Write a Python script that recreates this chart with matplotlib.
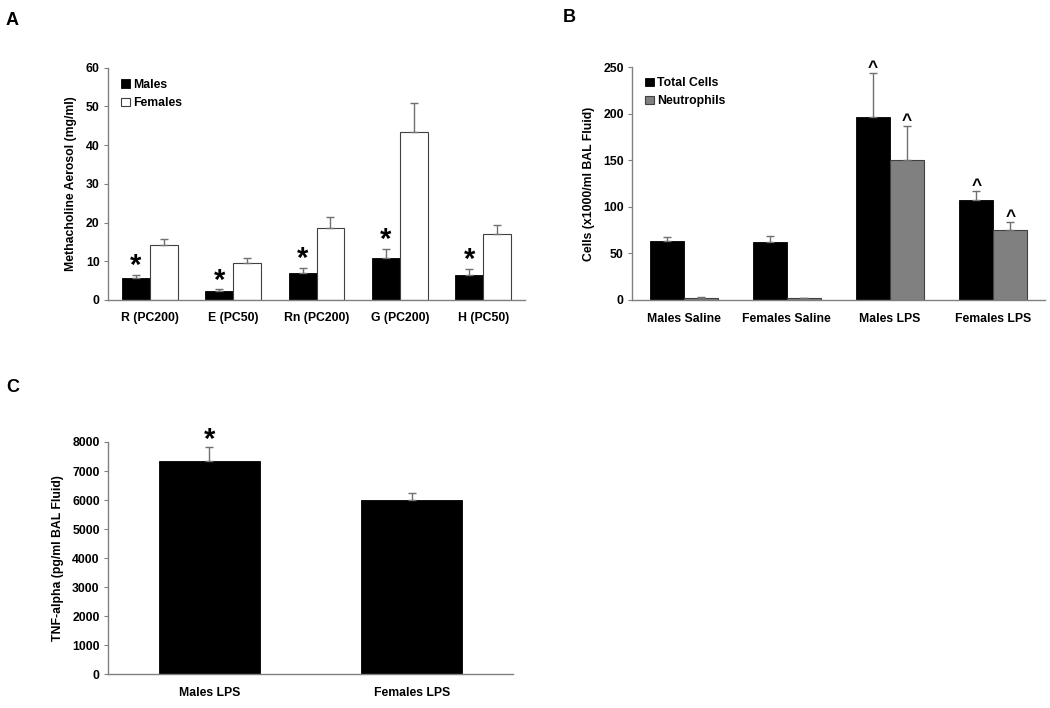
import matplotlib
matplotlib.use("Agg")
import matplotlib.pyplot as plt
import numpy as np

plt.rcParams['font.family'] = ['Liberation Sans', 'DejaVu Sans']
plt.rcParams['font.weight'] = 'bold'

# Panel A data
a_cats = ["R (PC200)", "E (PC50)", "Rn (PC200)", "G (PC200)", "H (PC50)"]
a_males = [5.6, 2.4, 7.1, 10.9, 6.5]
a_males_err = [0.9, 0.4, 1.2, 2.4, 1.6]
a_females = [14.3, 9.5, 18.5, 43.5, 17.0]
a_females_err = [1.4, 1.4, 2.9, 7.5, 2.5]
a_sig = ["*", "*", "*", "*", "*"]

# Panel B data
b_cats = ["Males Saline", "Females Saline", "Males LPS", "Females LPS"]
b_total = [63.8, 62.7, 197.0, 107.8]
b_total_err = [3.9, 5.7, 46.5, 9.0]
b_neut = [2.5, 1.8, 150.0, 74.9]
b_neut_err = [0.7, 0.7, 36.6, 8.6]
b_total_sig = ["", "", "^", "^"]
b_neut_sig = ["", "", "^", "^"]

# Panel C data
c_cats = ["Males LPS", "Females LPS"]
c_vals = [7350, 6000]
c_err = [490, 245]
c_sig = ["*", ""]

W, H = 1050, 708
fig = plt.figure(figsize=(W/100, H/100), dpi=100)

def px_axes(l, r, t, b):
    return fig.add_axes([l/W, (H-b)/H, (r-l)/W, (b-t)/H])

spine_c = '#808080'
err_c = '#707070'
fs = 8.8

def style(ax):
    for s in ['top', 'right']:
        ax.spines[s].set_visible(False)
    for s in ['left', 'bottom']:
        ax.spines[s].set_color(spine_c)
        ax.spines[s].set_linewidth(1.0)
    ax.tick_params(axis='y', direction='out', length=3, color=spine_c, labelsize=fs, pad=3)
    ax.tick_params(axis='x', length=0, labelsize=fs, pad=9)
    for lab in ax.get_xticklabels() + ax.get_yticklabels():
        lab.set_fontweight('bold')

def mark(ax, x, top, s, size, off):
    if s:
        ax.annotate(s, (x, top), xytext=(0, off), textcoords='offset points',
                    ha='center', va='bottom', fontsize=size, fontweight='bold')

# ---- Panel A
axA = px_axes(108, 525, 67.7, 300)
x = np.arange(len(a_cats))
w = 0.335
axA.bar(x - w/2, a_males, w, color='black', edgecolor='black', linewidth=0.6,
        yerr=[np.zeros(len(x)), a_males_err], ecolor=err_c, capsize=3,
        error_kw=dict(elinewidth=1, capthick=1), label='Males', zorder=2)
axA.bar(x + w/2, a_females, w, color='white', edgecolor='#404040', linewidth=0.8,
        yerr=[np.zeros(len(x)), a_females_err], ecolor=err_c, capsize=3,
        error_kw=dict(elinewidth=1, capthick=1), label='Females', zorder=2)
for i in range(len(x)):
    mark(axA, x[i] - w/2, a_males[i] + a_males_err[i], a_sig[i], 21, -4)
axA.set_xlim(-0.5, len(x) - 0.5)
axA.set_ylim(0, 60)
axA.set_yticks(range(0, 61, 10))
axA.set_xticks(x)
axA.set_xticklabels(a_cats)
axA.set_ylabel("Methacholine Aerosol (mg/ml)", fontsize=fs, fontweight='bold', labelpad=6)
style(axA)
axA.legend(loc='upper left', bbox_to_anchor=(0.005, 1.0), frameon=False, fontsize=fs,
           handlelength=0.7, handleheight=0.7, handletextpad=0.3, labelspacing=0.55,
           prop=dict(weight='bold', size=fs))

# ---- Panel B
axB = px_axes(632, 1045, 67.3, 300)
x = np.arange(len(b_cats))
w = 0.33
axB.bar(x - w/2, b_total, w, color='black', edgecolor='black', linewidth=0.6,
        yerr=[np.zeros(len(x)), b_total_err], ecolor=err_c, capsize=3,
        error_kw=dict(elinewidth=1, capthick=1), label='Total Cells', zorder=2)
axB.bar(x + w/2, b_neut, w, color='#808080', edgecolor='#404040', linewidth=0.8,
        yerr=[np.zeros(len(x)), b_neut_err], ecolor=err_c, capsize=3,
        error_kw=dict(elinewidth=1, capthick=1), label='Neutrophils', zorder=2)
for i in range(len(x)):
    mark(axB, x[i] - w/2, b_total[i] + b_total_err[i], b_total_sig[i], 12.5, -1.5)
    mark(axB, x[i] + w/2, b_neut[i] + b_neut_err[i], b_neut_sig[i], 12.5, -1.5)
axB.set_xlim(-0.5, len(x) - 0.5)
axB.set_ylim(0, 250)
axB.set_yticks(range(0, 251, 50))
axB.set_xticks(x)
axB.set_xticklabels(b_cats)
axB.set_ylabel("Cells (x1000/ml BAL Fluid)", fontsize=fs, fontweight='bold', labelpad=6)
style(axB)
axB.legend(loc='upper left', bbox_to_anchor=(0.005, 1.005), frameon=False, fontsize=fs,
           handlelength=0.7, handleheight=0.7, handletextpad=0.3, labelspacing=0.5,
           prop=dict(weight='bold', size=fs))

# ---- Panel C
axC = px_axes(108, 513, 442, 674.3)
x = np.arange(len(c_cats))
axC.bar(x, c_vals, 0.5, color='black', edgecolor='black', linewidth=0.6,
        yerr=[np.zeros(len(x)), c_err], ecolor=err_c, capsize=3,
        error_kw=dict(elinewidth=1, capthick=1), zorder=2)
for i in range(len(x)):
    mark(axC, x[i], c_vals[i] + c_err[i], c_sig[i], 21, -5)
axC.set_xlim(-0.5, len(x) - 0.5)
axC.set_ylim(0, 8000)
axC.set_yticks(range(0, 8001, 1000))
axC.set_xticks(x)
axC.set_xticklabels(c_cats)
axC.set_ylabel("TNF-alpha (pg/ml BAL Fluid)", fontsize=fs, fontweight='bold', labelpad=6)
style(axC)

# Panel letters
fig.text(6/W, 1 - 25/H, "A", fontsize=13, fontweight='bold')
fig.text(563/W, 1 - 22/H, "B", fontsize=13, fontweight='bold')
fig.text(6/W, 1 - 392/H, "C", fontsize=13, fontweight='bold')

fig.savefig("out.png", dpi=100)
